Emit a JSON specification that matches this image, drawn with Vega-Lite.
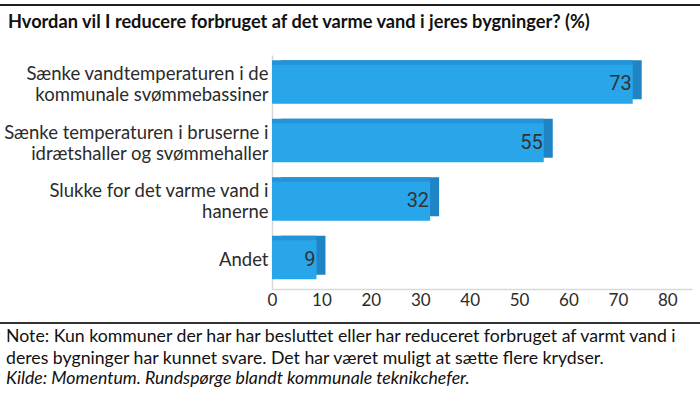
{
  "$schema": "https://vega.github.io/schema/vega-lite/v6.json",
  "background": "white",
  "padding": {"left": 0, "right": 0, "top": 4, "bottom": 0},
  "spacing": 6,
  "config": {"font": "Lato", "view": {"stroke": null}, "concat": {"spacing": 0}},
  "datasets": {
    "survey": [
      {"label": "Sænke vandtemperaturen i de|kommunale svømmebassiner", "value": 73},
      {"label": "Sænke temperaturen i bruserne i|idrætshaller og svømmehaller", "value": 55},
      {"label": "Slukke for det varme vand i|hanerne", "value": 32},
      {"label": "Andet", "value": 9}
    ]
  },
  "vconcat": [
    {
      "width": 700, "height": 2,
      "data": {"values": []},
      "mark": "point",
      "encoding": {},
      "view": {"fill": "#1e1e1e", "stroke": null}
    },
    {
      "title": {
        "text": "Hvordan vil I reducere forbruget af det varme vand i jeres bygninger? (%)",
        "anchor": "start", "frame": "group", "dx": 8, "offset": 23,
        "fontSize": 18.2, "fontWeight": "bold", "font": "Lato", "color": "#111"
      },
      "spacing": -1,
      "hconcat": [
        {
          "width": 261, "height": 234,
          "data": {"name": "survey"},
          "mark": {"type": "point", "opacity": 0},
          "encoding": {
            "y": {
              "field": "label", "type": "nominal", "sort": null,
              "scale": {"paddingInner": 0.33, "paddingOuter": 0.165},
              "axis": {
                "orient": "right", "title": null, "ticks": false, "domain": false,
                "labelExpr": "split(datum.label, '|')",
                "labelAlign": "right", "labelBaseline": "middle",
                "labelOffset": {"condition": {"test": "indexof(datum.label, '|') >= 0", "value": -10.5}, "value": 0},
                "labelFontSize": 18.5, "labelColor": "#2b2b2b", "labelLineHeight": 21,
                "labelPadding": 7, "labelLimit": 300, "minExtent": 0, "maxExtent": 0
              }
            }
          }
        },
        {
          "width": 420, "height": 234,
          "data": {"name": "survey"},
          "encoding": {
            "y": {
              "field": "label", "type": "nominal", "sort": null,
              "scale": {"paddingInner": 0.33, "paddingOuter": 0.165},
              "axis": {
                "title": null, "ticks": false, "labels": false, "domain": true,
                "domainColor": "#d9d9d9", "domainWidth": 1.5, "minExtent": 0, "maxExtent": 0
              }
            }
          },
          "layer": [
            {
              "mark": {"type": "bar", "color": "#1e84c4", "xOffset": 9, "x2Offset": 9, "yOffset": -4.5},
              "encoding": {
                "x": {
                  "field": "value", "type": "quantitative",
                  "scale": {"domain": [0, 85], "nice": false},
                  "axis": {
                    "title": null, "values": [0, 10, 20, 30, 40, 50, 60, 70, 80],
                    "grid": false, "ticks": false, "labelFlush": false,
                    "domainColor": "#d9d9d9", "domainWidth": 1.5,
                    "labelFontSize": 17, "labelColor": "#2b2b2b", "labelPadding": 3,
                    "minExtent": 27, "maxExtent": 27
                  }
                }
              }
            },
            {
              "mark": {"type": "bar", "color": "#2494d8", "yOffset": -4.5},
              "encoding": {"x": {"field": "value", "type": "quantitative"}}
            },
            {
              "mark": {"type": "bar", "color": "#29a5e9"},
              "encoding": {"x": {"field": "value", "type": "quantitative"}}
            },
            {
              "mark": {"type": "text", "align": "right", "dx": -1, "fontSize": 20, "font": "Roboto", "color": "#333"},
              "encoding": {
                "x": {"field": "value", "type": "quantitative"},
                "text": {"field": "value", "type": "quantitative"}
              }
            }
          ]
        }
      ]
    },
    {
      "width": 700, "height": 2,
      "data": {"values": []},
      "mark": "point",
      "encoding": {},
      "view": {"fill": "#333", "stroke": null},
      "title": {
        "text": ["Note: Kun kommuner der har har besluttet eller har reduceret forbruget af varmt vand i", "deres bygninger har kunnet svare. Det har været muligt at sætte flere krydser."],
        "subtitle": "Kilde: Momentum. Rundspørge blandt kommunale teknikchefer.",
        "orient": "bottom", "anchor": "start", "dx": 6, "offset": 4,
        "fontSize": 17.7, "fontWeight": "normal", "font": "Lato", "color": "#111", "lineHeight": 21.5,
        "subtitleFontSize": 17.7, "subtitleFontStyle": "italic", "subtitleFont": "Lato", "subtitleColor": "#111",
        "subtitlePadding": 3
      }
    }
  ]
}
